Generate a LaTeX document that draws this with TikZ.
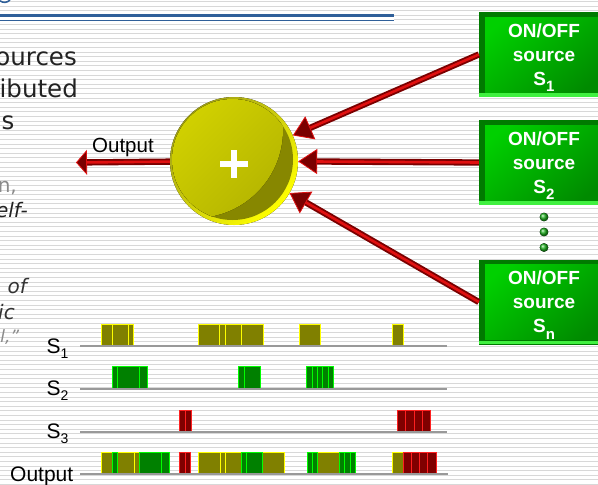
\documentclass[tikz,border=0pt]{standalone}
\usepackage{fontspec}
\setmainfont{Liberation Sans}
\newfontfamily\dejavu{DejaVu Sans}
\usetikzlibrary{arrows.meta,calc}
\definecolor{stripe}{HTML}{D8D8D8}
\definecolor{blueline}{HTML}{2F5F99}
\definecolor{txtdark}{HTML}{222222}
\definecolor{txtmid}{HTML}{333333}
\definecolor{txtgray}{HTML}{8A8A8A}
\definecolor{boxdark}{HTML}{007A00}
\definecolor{boxlight}{HTML}{00D000}
\definecolor{boxmid}{HTML}{008A00}
\definecolor{boxstrip}{HTML}{40F040}
\definecolor{arrowdark}{HTML}{7A0000}
\definecolor{arrowred}{HTML}{E01010}
\definecolor{rimolive}{HTML}{A0A018}
\definecolor{rimyellow}{HTML}{FFFF00}
\definecolor{innerdark}{HTML}{878700}
\definecolor{innerlight}{HTML}{E2E200}
\definecolor{innermid}{HTML}{B8B800}
\definecolor{olivebar}{HTML}{808000}
\definecolor{yellowedge}{HTML}{FFFF00}
\definecolor{greenbar}{HTML}{008000}
\definecolor{greenedge}{HTML}{00FF00}
\definecolor{redbar}{HTML}{800000}
\definecolor{rededge}{HTML}{FF2020}
\definecolor{baseln}{HTML}{999999}
\definecolor{dotgreen}{HTML}{20B020}
\begin{document}
\begin{tikzpicture}[x=1pt,y=-1pt,
  bigtxt/.style={inner sep=0pt, font=\dejavu\fontsize{24.5}{30}\selectfont, text=txtdark},
  smtxt/.style={inner sep=0pt, font=\dejavu\fontsize{20}{24}\selectfont, text=txtgray},
  smit/.style={inner sep=0pt, font=\dejavu\itshape\fontsize{20}{24}\selectfont, text=txtmid},
  lbl/.style={inner sep=0pt, font=\fontsize{21}{24}\selectfont, text=black},
  boxtxt/.style={inner sep=0pt, font=\bfseries\fontsize{19}{22}\selectfont, text=white},
  srcbox/.style={minimum width=130pt, minimum height=85pt, inner sep=0pt, fill=boxdark,
    path picture={
      \fill[top color=boxlight, bottom color=boxmid, shading angle=40]
        ([xshift=6pt,yshift=-5pt]path picture bounding box.north west) rectangle
        ([yshift=5pt]path picture bounding box.south east);
      \fill[boxstrip] ([yshift=0.5pt]path picture bounding box.south west) rectangle
        ([yshift=4pt]path picture bounding box.south east);
    }},
  arrowline/.style={line width=6.3pt, draw=arrowdark},
  arrowcore/.style={line width=2.6pt, draw=arrowred},
  obar/.style={fill=olivebar, draw=yellowedge, line width=1pt},
  gbar/.style={fill=greenbar, draw=greenedge, line width=1pt},
  rbar/.style={fill=redbar, draw=rededge, line width=1pt},
  tline/.style={draw=baseln, line width=2.3pt},
  gdot/.style={ball color=dotgreen}
]
\useasboundingbox (0,0) rectangle (598,485);
\clip (0,0) rectangle (598,485);
\fill[white] (0,0) rectangle (598,485);
\foreach \k in {0,...,105}
  \draw[stripe, line width=0.9pt] (0,{1.5+4.6*\k}) -- (598,{1.5+4.6*\k});

% header lines and logo fragment
\draw[blueline, line width=1.6pt] (0,0.8) .. controls (3,3) and (7,3) .. (10,0);
\fill[white] (0,13.5) rectangle (394,22.5);
\draw[blueline, line width=2.4pt] (0,15.5) -- (394,15.5);
\draw[blueline, line width=1.3pt] (0,20.7) -- (394,20.7);

% left text fragments
\node[bigtxt, anchor=base east] (t1) at (77,65) {ources};
\node[bigtxt, anchor=base east] (t2) at (78,97.7) {ibuted};
\node[bigtxt, anchor=base east] (t3) at (14.5,129.3) {s};
\node[smtxt, anchor=base east] (t4) at (17,192) {n,};
\node[smit, anchor=base east, text=txtdark] (t5) at (28,217) {elf-};
\node[smit, anchor=base east] (t6) at (27,293) {of};
\node[smit, anchor=base east] (t7) at (15,319) {ic};
\node[smit, anchor=base east, text=txtgray, font=\dejavu\itshape\fontsize{17}{20}\selectfont] (t8) at (19.5,342) {l,”};

% summing circle
\coordinate (c) at (234,161);
\fill[top color=rimolive, bottom color=rimyellow, shading angle=45] (c) circle (64);
\fill[innerdark] (232.5,159.5) circle (60.5);
\begin{scope}
  \clip (232.5,159.5) circle (60.5);
  \fill[top color=innerlight, bottom color=innermid, shading angle=45] (195,130) circle (88);
\end{scope}
\node[circle, minimum size=128pt, inner sep=0pt] (sum) at (c) {};
\fill[white] (220,160.5) rectangle (248,166.8);
\fill[white] (230.8,149.5) rectangle (237.2,178);

% sources
\node[srcbox] (s1) at (544,54.5) {};
\node[srcbox] (s2) at (544,162.5) {};
\node[srcbox] (sn) at (544,302) {};
\foreach \b/\s in {s1/1, s2/2, sn/n} {
  \node[boxtxt, anchor=base] at ($(\b.north)+(0,25.3)$) {ON/OFF};
  \node[boxtxt, anchor=base] at ($(\b.north)+(0,49.6)$) {source};
  \node[boxtxt, anchor=base] at ($(\b.north)+(0,73.3)$) {S\raisebox{-6.5pt}{\fontsize{15}{15}\selectfont \s}};
}
\fill[gdot] (544,217) circle (4.3);
\fill[gdot] (544,232) circle (4.3);
\fill[gdot] (544,247.5) circle (4.3);

% arrows
\foreach \b in {s1,s2,sn} {
  \draw[arrowline, -{Triangle[length=19pt,width=25pt,line width=0.8pt,color=arrowred,fill=arrowdark]}] (\b.west) -- (sum);
  \draw[arrowcore, shorten >=19pt] (\b.west) -- (sum);
}
\coordinate (outtip) at (76,162.5);
\draw[arrowline, -{Triangle[length=11pt,width=25pt,line width=0.8pt,color=arrowred,fill=arrowdark]}] (sum) -- (outtip);
\draw[arrowcore, shorten >=11pt] (sum) -- (outtip);
\node[lbl, anchor=base west, font=\fontsize{20.5}{24}\selectfont] (outlbl) at (92,152.3) {Output};

% timing diagram
\foreach \a/\b in {101.7/112.3, 112.3/128.7, 128.7/133.7, 198.7/219.7, 219.7/225.7, 225.7/241.7, 241.7/263.3, 299.3/320.7, 392.5/403.5}
  \draw[obar] (\a,324) rectangle (\b,346);
\foreach \a/\b in {112.3/117.3, 117.3/139.3, 139.3/147.3, 238.7/244.3, 244.3/260.7, 306.3/312, 312/317.3, 317.3/322.7, 322.7/328, 328/333.3}
  \draw[gbar] (\a,366.7) rectangle (\b,388.7);
\foreach \a/\b in {179.3/185.3, 185.3/191, 397.7/405.7, 405.7/414, 414/422.3, 422.3/430.7}
  \draw[rbar] (\a,410) rectangle (\b,431.7);
\foreach \a/\b in {101.7/112.3, 117.3/134, 134/139.3, 198.5/220.3, 220.3/225.7, 225.7/241.7, 262.7/284.3, 317.7/339.3, 392.5/403}
  \draw[obar] (\a,452) rectangle (\b,474);
\foreach \a/\b in {112.3/117.3, 139.3/161.7, 161.7/169.3, 241.7/246.7, 246.7/262.7, 307/312.3, 312.3/317.7, 339.3/344.7, 344.7/350, 350/355.5}
  \draw[gbar] (\a,452) rectangle (\b,474);
\foreach \a/\b in {179.3/185, 185/190.7, 403/411, 411/419.5, 419.5/427.7, 427.7/436}
  \draw[rbar] (\a,452) rectangle (\b,474);
\draw[tline] (80,346) -- (447,346);
\draw[tline] (80,388.7) -- (447,388.7);
\draw[tline] (80,431.7) -- (447,431.7);
\draw[tline] (80,474) -- (448,474);
\node[lbl, anchor=base west] (l1) at (46.5,353.3) {S\raisebox{-5pt}{\fontsize{14}{14}\selectfont 1}};
\node[lbl, anchor=base west] (l2) at (46.5,395.7) {S\raisebox{-5pt}{\fontsize{14}{14}\selectfont 2}};
\node[lbl, anchor=base west] (l3) at (46.5,438) {S\raisebox{-5pt}{\fontsize{14}{14}\selectfont 3}};
\node[lbl, anchor=base west] (l4) at (10,481.5) {Output};
\end{tikzpicture}
\end{document}
